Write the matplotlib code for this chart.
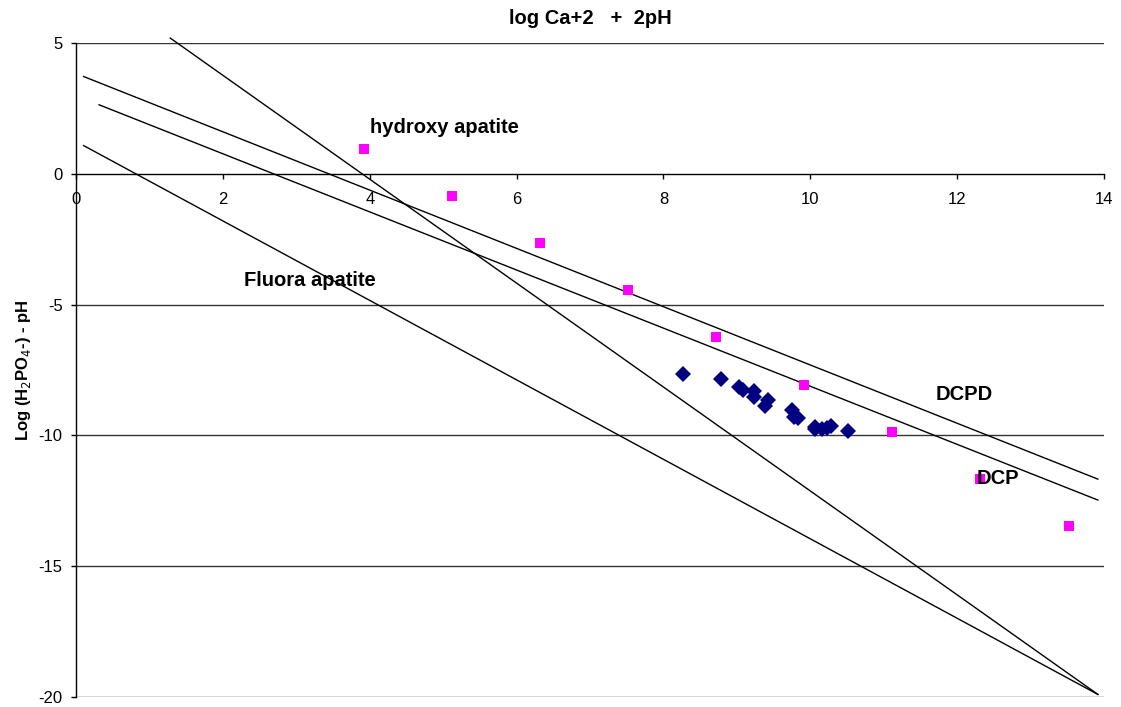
import matplotlib
matplotlib.use("Agg")
import matplotlib.pyplot as plt

plt.rcParams['font.family'] = ['Liberation Sans', 'DejaVu Sans']
plt.rcParams['axes.unicode_minus'] = False

# measured points (log Ca+2 + 2pH, log H2PO4- - pH)
meas_x = [8.27, 8.79, 9.03, 9.09, 9.24, 9.24, 9.42, 9.39, 9.75, 9.78, 9.83,
          10.07, 10.07, 10.16, 10.23, 10.29, 10.51]
meas_y = [-7.67, -7.84, -8.13, -8.26, -8.30, -8.52, -8.65, -8.86, -9.03, -9.29,
          -9.35, -9.67, -9.76, -9.77, -9.72, -9.62, -9.83]

# hydroxy apatite points
hap_x = [3.92, 5.12, 6.32, 7.52, 8.72, 9.92, 11.12, 12.32, 13.52]
hap_y = [0.96, -0.84, -2.64, -4.44, -6.24, -8.07, -9.87, -11.67, -13.47]

# solubility isotherms (start, end)
steep_x = [1.28, 13.92]
steep_y = [5.19, -19.9]
dcpd_x = [0.10, 13.92]
dcpd_y = [3.72, -11.67]
dcp_x = [0.31, 13.92]
dcp_y = [2.64, -12.47]
fap_x = [0.10, 13.92]
fap_y = [1.08, -19.9]

fig = plt.figure(figsize=(11.21, 7.07), dpi=100)
ax = fig.add_axes([0.0681, 0.0141, 0.9165, 0.925])

for yg in [5, -5, -10, -15, -20]:
    ax.axhline(yg, color='#333333', lw=1.0, zorder=1)

for lx, ly in [(steep_x, steep_y), (dcpd_x, dcpd_y), (dcp_x, dcp_y), (fap_x, fap_y)]:
    ax.plot(lx, ly, color='black', lw=1.0, zorder=2, clip_on=False)

ax.plot(hap_x, hap_y, ls='none', marker='s', ms=6.7, color='#ff00ff',
        markeredgewidth=0, zorder=3)
ax.plot(meas_x, meas_y, ls='none', marker='D', ms=7.8, color='#000080',
        markeredgewidth=0, zorder=4)

lbl = dict(fontsize=14.5, fontweight='bold', va='center')
ax.text(4.00, 1.76, 'hydroxy apatite', **lbl)
ax.text(2.29, -4.06, 'Fluora apatite', **lbl)
ax.text(11.71, -8.42, 'DCPD', **lbl)
ax.text(12.27, -11.63, 'DCP', **lbl)

ax.set_xlim(0, 14)
ax.set_ylim(-20, 5)
ax.set_xticks(range(0, 15, 2))
ax.set_yticks([5, 0, -5, -10, -15, -20])

ax.spines['top'].set_visible(False)
ax.spines['right'].set_visible(False)
ax.spines['bottom'].set_position(('data', 0))
ax.spines['bottom'].set_linewidth(1.0)
ax.spines['left'].set_linewidth(1.0)
ax.tick_params(axis='both', labelsize=12, direction='out', length=3.3, width=1)
ax.tick_params(axis='x', pad=10)
ax.tick_params(axis='y', pad=6.5)

ax.set_title('log Ca+2   +  2pH', fontsize=14.5, fontweight='bold', pad=13.5)
ax.set_ylabel('Log (H$_2$PO$_4$-) - pH', fontsize=12, fontweight='bold', labelpad=4)

fig.savefig('out.png', dpi=100)
